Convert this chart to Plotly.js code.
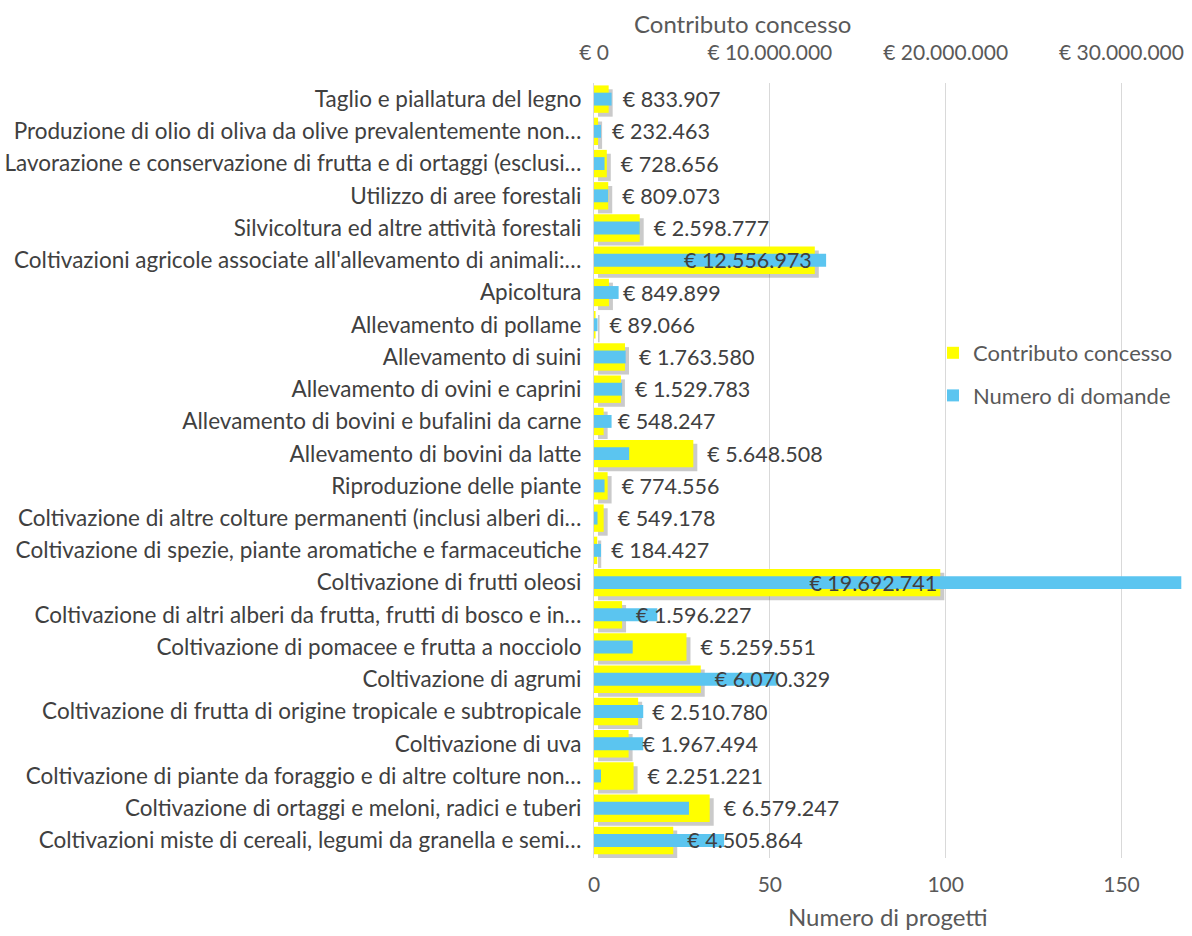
<!DOCTYPE html>
<html>
<head>
<meta charset="utf-8">
<script src="https://cdn.plot.ly/plotly-3.0.1.min.js"></script>
<style>html,body{margin:0;padding:0;background:#fff;}#chart{width:1192px;height:936px;}</style>
</head>
<body>
<div id="chart"></div>
<script>
const categories = [
  "Taglio e piallatura del legno",
  "Produzione di olio di oliva da olive prevalentemente non…",
  "Lavorazione e conservazione di frutta e di ortaggi (esclusi…",
  "Utilizzo di aree forestali",
  "Silvicoltura ed altre attività forestali",
  "Coltivazioni agricole associate all'allevamento di animali:…",
  "Apicoltura",
  "Allevamento di pollame",
  "Allevamento di suini",
  "Allevamento di ovini e caprini",
  "Allevamento di bovini e bufalini da carne",
  "Allevamento di bovini da latte",
  "Riproduzione delle piante",
  "Coltivazione di altre colture permanenti (inclusi alberi di…",
  "Coltivazione di spezie, piante aromatiche e farmaceutiche",
  "Coltivazione di frutti oleosi",
  "Coltivazione di altri alberi da frutta, frutti di bosco e in…",
  "Coltivazione di pomacee e frutta a nocciolo",
  "Coltivazione di agrumi",
  "Coltivazione di frutta di origine tropicale e subtropicale",
  "Coltivazione di uva",
  "Coltivazione di piante da foraggio e di altre colture non…",
  "Coltivazione di ortaggi e meloni, radici e tuberi",
  "Coltivazioni miste di cereali, legumi da granella e semi…"
];
const contributo = [833907, 232463, 728656, 809073, 2598777, 12556973, 849899, 89066, 1763580, 1529783, 548247, 5648508, 774556, 549178, 184427, 19692741, 1596227, 5259551, 6070329, 2510780, 1967494, 2251221, 6579247, 4505864];
const domande = [5, 2, 3, 4, 13, 66, 7, 1, 9, 8, 5, 10, 3, 1, 2, 167, 18, 11, 52, 14, 14, 2, 27, 37];
const topTickVals = [0, 10000000, 20000000, 30000000];
const topTickText = ["€ 0", "€ 10.000.000", "€ 20.000.000", "€ 30.000.000"];
const bottomTickVals = [0, 50, 100, 150];

function fmtEuro(v) {
  return "€ " + String(v).replace(/\B(?=(\d{3})+(?!\d))/g, ".");
}
const labels = contributo.map(fmtEuro);
const positions = contributo.map(v => v > 10000000 ? "inside" : "outside");
const labelText = labels.map((t, i) => positions[i] === "outside" ? "\u00a0\u00a0" + t : t);

const FONT = "Lato, 'Open Sans', sans-serif";
const GRAY = "#595959";
const DARK = "#404040";

const shadow = {
  type: "bar", orientation: "h", y: categories, x: contributo,
  xaxis: "x", yaxis: "y",
  width: 0.85, offset: -0.425 + 0.12,
  marker: {color: "rgba(90,90,90,0.32)"},
  hoverinfo: "skip", showlegend: false
};
const yellow = {
  type: "bar", orientation: "h", y: categories, x: contributo,
  xaxis: "x2", yaxis: "y",
  name: "Contributo concesso",
  width: 0.85,
  marker: {color: "#FFFF00"},
  legendgroup: "a"
};
const blue = {
  type: "bar", orientation: "h", y: categories, x: domande,
  xaxis: "x3", yaxis: "y",
  name: "Numero di domande",
  width: 0.4,
  marker: {color: "#5BC5F0"},
  legendgroup: "b"
};
const labelTrace = {
  type: "bar", orientation: "h", y: categories, x: contributo,
  xaxis: "x4", yaxis: "y",
  width: 0.85,
  marker: {color: "rgba(0,0,0,0)"},
  text: labelText, textposition: positions,
  insidetextanchor: "end", constraintext: "none",
  textfont: {family: FONT, size: 21.5, color: DARK},
  insidetextfont: {family: FONT, size: 21.5, color: DARK},
  outsidetextfont: {family: FONT, size: 21.5, color: DARK},
  cliponaxis: false, showlegend: false, hoverinfo: "skip"
};

const R = 33440000;
const shift = R * 4 / 588;
const layout = {
  width: 1192, height: 936,
  margin: {l: 594, r: 10, t: 83, b: 78},
  paper_bgcolor: "#fff", plot_bgcolor: "rgba(0,0,0,0)",
  font: {family: FONT, color: GRAY, size: 17},
  barmode: "overlay",
  showlegend: true,
  legend: {
    x: (933 - 594) / 588, y: (858 - 332) / 775, xanchor: "left", yanchor: "top",
    font: {family: FONT, size: 22, color: GRAY},
    bgcolor: "rgba(255,255,255,0)",
    traceorder: "grouped", tracegroupgap: 11
  },
  yaxis: {
    type: "category", autorange: "reversed",
    showline: true, linecolor: "#d9d9d9", linewidth: 1,
    ticks: "", showgrid: false, ticklabelstandoff: 7,
    tickfont: {family: FONT, size: 22.5, color: DARK},
    automargin: false
  },
  xaxis: {
    range: [-shift, R - shift], visible: false, showgrid: false, zeroline: false
  },
  xaxis2: {
    overlaying: "x", range: [0, R], visible: false, showgrid: false, zeroline: false
  },
  xaxis3: {
    overlaying: "x", side: "bottom", range: [0, 167.2],
    tickvals: bottomTickVals,
    showgrid: true, gridcolor: "#d9d9d9", gridwidth: 1,
    zeroline: false, showline: false, ticks: "", ticklabelstandoff: 12,
    tickfont: {family: FONT, size: 21, color: GRAY}
  },
  xaxis4: {
    overlaying: "x", side: "top", range: [0, R],
    tickvals: topTickVals, ticktext: topTickText,
    showgrid: false, zeroline: false, showline: false, ticks: "", ticklabelstandoff: 18,
    tickfont: {family: FONT, size: 21, color: GRAY}
  },
  annotations: [{
    text: "Contributo concesso", xref: "paper", yref: "paper",
    x: (742 - 594) / 588, y: 1, yshift: 60, xanchor: "center", yanchor: "middle",
    showarrow: false, font: {family: FONT, size: 24, color: GRAY}
  }, {
    text: "Numero di progetti", xref: "paper", yref: "paper",
    x: 0.5, y: 0, yshift: -58, xanchor: "center", yanchor: "middle",
    showarrow: false, font: {family: FONT, size: 24, color: GRAY}
  }]
};

Plotly.newPlot("chart", [shadow, yellow, blue, labelTrace], layout, {displayModeBar: false, staticPlot: true});
</script>
</body>
</html>
